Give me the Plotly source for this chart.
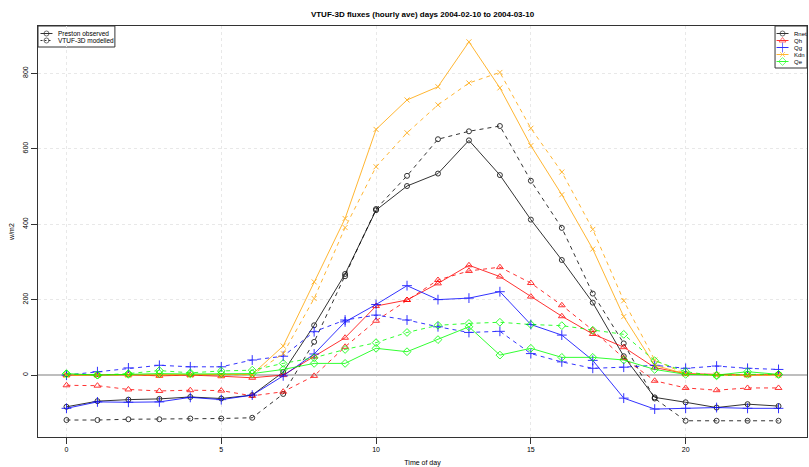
import plotly.graph_objects as go

# ---------------- data ----------------
hours = list(range(24))
x_ticks = [0, 5, 10, 15, 20]
y_ticks = [0, 200, 400, 600, 800]

rnet_obs = [-84, -69, -65, -63, -58, -62, -53, 8, 132, 268, 437, 501, 534, 622, 530, 412, 305, 192, 50, -59, -72, -86, -77, -82]
rnet_mod = [-119, -119, -117, -117, -115, -115, -113, -50, 88, 262, 440, 528, 625, 646, 660, 515, 390, 216, 84, -62, -121, -121, -121, -121]
qh_obs = [0, 0, 1, -2, 0, -3, -7, 0, 49, 99, 183, 199, 243, 291, 261, 208, 156, 109, 74, 20, 4, 2, 0, 2]
qh_mod = [-27, -28, -38, -42, -40, -41, -55, -44, -2, 75, 144, 199, 252, 276, 286, 244, 185, 119, 45, -15, -34, -40, -34, -34]
qg_obs = [-88, -71, -72, -71, -59, -65, -53, -2, 56, 141, 187, 237, 200, 204, 221, 134, 106, 39, -61, -90, -88, -86, -88, -88]
qg_mod = [0, 9, 19, 26, 22, 22, 40, 50, 115, 146, 159, 146, 128, 113, 116, 57, 35, 18, 21, 26, 18, 24, 18, 15]
kdn_obs = [0, 0, 0, 0, 0, 0, 2, 77, 247, 415, 651, 729, 764, 883, 761, 608, 478, 334, 155, 26, 3, 0, 0, 0]
kdn_mod = [0, 0, 0, 0, 0, 0, 1, 57, 203, 391, 552, 642, 716, 774, 802, 654, 538, 386, 197, 40, 3, 0, 0, 0]
qe_obs = [4, 0, 2, 4, 3, 4, 4, 15, 31, 31, 71, 62, 94, 128, 53, 71, 47, 47, 40, 15, 2, 0, 9, 2]
qe_mod = [3, 0, 4, 12, 6, 11, 13, 31, 46, 68, 86, 113, 132, 137, 140, 134, 131, 119, 108, 38, 9, -2, 2, 2]

series_names = ["Rnet", "Qh", "Qg", "Kdn", "Qe"]
source_names = ["Preston observed", "VTUF-3D modelled"]
title_text = "VTUF-3D fluxes (hourly ave) days 2004-02-10 to 2004-03-10"
x_title = "Time of day"
y_title = "w/m2"

# ---------------- styling ----------------
FONT = "Liberation Sans, Arial, sans-serif"
colors = ["#000000", "#FF0000", "#0000FF", "#FFA500", "#00FF00"]
symbols = ["circle-open", "triangle-up-open", "cross-thin-open", "x-thin-open", "diamond-open"]
sizes = [5, 6, 7, 5, 6]
obs_list = [rnet_obs, qh_obs, qg_obs, kdn_obs, qe_obs]
mod_list = [rnet_mod, qh_mod, qg_mod, kdn_mod, qe_mod]
DASH = "4px,4px"

fig = go.Figure()
for name, col, sym, sz, obs, mod in zip(series_names, colors, symbols, sizes, obs_list, mod_list):
    fig.add_trace(go.Scatter(
        x=hours, y=mod, mode="lines+markers", name=name + " modelled",
        line=dict(color=col, width=1, dash=DASH),
        marker=dict(symbol=sym, size=sz, color=col, line=dict(color=col, width=1)),
        showlegend=False, opacity=0.8))
    fig.add_trace(go.Scatter(
        x=hours, y=obs, mode="lines+markers", name=name + " observed",
        line=dict(color=col, width=1),
        marker=dict(symbol=sym, size=sz, color=col, line=dict(color=col, width=1)),
        showlegend=False, opacity=0.8))

# ---------------- legends drawn on a pixel-space overlay axis ----------------
PL, PR, PT, PB = 37.5, 807.5, 26, 437
shapes = []
annotations = []


def legend_block(x0, x1, y0, row_h, labels, cols, syms, szs, dashes, line_x0, line_x1, text_x, fsize):
    n = len(labels)
    y1 = y0 + 7 + row_h * n
    shapes.append(dict(type="rect", xref="x2", yref="y2", x0=x0, x1=x1, y0=y0, y1=y1,
                       line=dict(color="#333333", width=1), fillcolor="rgba(255,255,255,0)",
                       layer="below"))
    for i, (lab, c, s, z, d) in enumerate(zip(labels, cols, syms, szs, dashes)):
        yy = y0 + 7.5 + row_h * i
        fig.add_trace(go.Scatter(
            x=[line_x0, (line_x0 + line_x1) / 2, line_x1], y=[yy, yy, yy],
            xaxis="x2", yaxis="y2", mode="lines+markers", showlegend=False, hoverinfo="skip",
            line=dict(color=c, width=1, dash=d),
            marker=dict(symbol=s, size=[0, z, 0], color=c, line=dict(color=c, width=1)),
            opacity=0.8))
        annotations.append(dict(xref="x2", yref="y2", x=text_x, y=yy, text=lab, showarrow=False,
                                xanchor="left", yanchor="middle",
                                font=dict(family=FONT, size=fsize, color="black")))


fig.update_layout(xaxis2=dict(overlaying="x", range=[PL, PR], visible=False, fixedrange=True,
                              automargin=False),
                  yaxis2=dict(overlaying="y", range=[PB, PT], visible=False, fixedrange=True,
                              automargin=False))

legend_block(PL, 114.5, PT, 7, source_names, ["#000000", "#000000"],
             ["circle-open", "circle-open"], [5, 5], ["solid", "2px,2px"], 40, 52, 56, 6.5)
legend_block(775.5, PR, PT, 7, series_names, colors, symbols, sizes,
             ["solid"] * 5, 777, 789, 792, 6)

fig.update_layout(
    width=809, height=467,
    margin=dict(l=PL, r=809 - PR, t=PT, b=467 - PB, pad=0, autoexpand=False),
    paper_bgcolor="white", plot_bgcolor="white",
    font=dict(family=FONT, size=7, color="black"),
    title=dict(text="<b>" + title_text + "</b>", xref="paper", x=0.5, xanchor="center",
               yref="container", y=1 - 14 / 467, yanchor="middle",
               font=dict(family=FONT, size=8, color="black")),
    shapes=shapes, annotations=annotations,
    xaxis=dict(range=[-0.92, 23.92], tickvals=x_ticks, ticks="outside", ticklen=6,
               tickcolor="#333333", tickwidth=1, automargin=False,
               showgrid=True, gridcolor="#e8e8e8", griddash="dot", gridwidth=1,
               showline=True, mirror=True, linecolor="#333333", linewidth=1,
               zeroline=False, tickfont=dict(size=7),
               title=dict(text=x_title, font=dict(size=7), standoff=7)),
    yaxis=dict(range=[-164, 925], tickvals=y_ticks, ticks="outside", ticklen=6,
               tickcolor="#333333", tickwidth=1, tickangle=-90, automargin=False,
               showgrid=True, gridcolor="#e8e8e8", griddash="dot", gridwidth=1,
               showline=True, mirror=True, linecolor="#333333", linewidth=1,
               zeroline=True, zerolinecolor="#bebebe", zerolinewidth=1.5,
               tickfont=dict(size=7),
               title=dict(text=y_title, font=dict(size=7), standoff=6)),
    showlegend=False,
)

fig.write_html("out.html", config={"displayModeBar": False},
               post_script="document.body.style.margin='0px';document.body.style.overflow='hidden';")
